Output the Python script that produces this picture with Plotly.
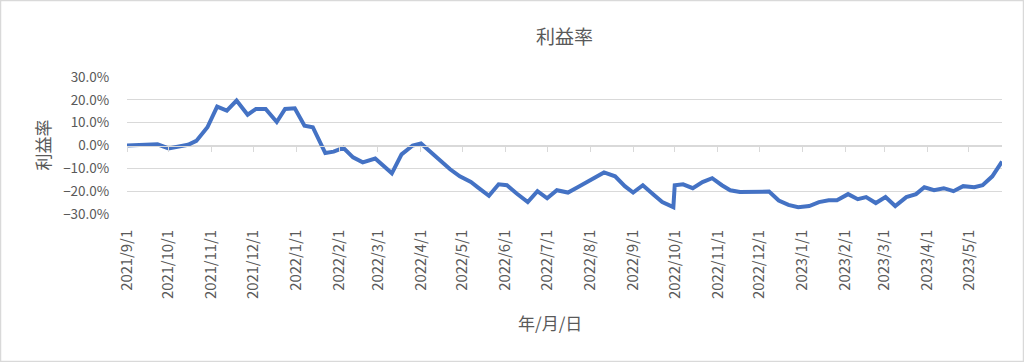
import plotly.graph_objects as go

# ---- data ----
dates = [
    "2021-09-01", "2021-09-08", "2021-09-15", "2021-09-23", "2021-10-01", "2021-10-08",
    "2021-10-15", "2021-10-21", "2021-10-29", "2021-11-05", "2021-11-12", "2021-11-19",
    "2021-11-27", "2021-12-03", "2021-12-10", "2021-12-18", "2021-12-24", "2021-12-31",
    "2022-01-07", "2022-01-13", "2022-01-22", "2022-01-28", "2022-02-04", "2022-02-11",
    "2022-02-18", "2022-02-27", "2022-03-05", "2022-03-11", "2022-03-18", "2022-03-26",
    "2022-04-01", "2022-04-08", "2022-04-14", "2022-04-22", "2022-04-29", "2022-05-07",
    "2022-05-12", "2022-05-20", "2022-05-27", "2022-06-02", "2022-06-09", "2022-06-17",
    "2022-06-24", "2022-07-01", "2022-07-08", "2022-07-16", "2022-07-23", "2022-07-30",
    "2022-08-05", "2022-08-11", "2022-08-19", "2022-08-26", "2022-09-01", "2022-09-08",
    "2022-09-16", "2022-09-22", "2022-09-30", "2022-10-01", "2022-10-07", "2022-10-14",
    "2022-10-21", "2022-10-28", "2022-11-04", "2022-11-10", "2022-11-17", "2022-11-25",
    "2022-12-02", "2022-12-08", "2022-12-15", "2022-12-22", "2022-12-29", "2023-01-06",
    "2023-01-13", "2023-01-20", "2023-01-26", "2023-02-03", "2023-02-10", "2023-02-16",
    "2023-02-23", "2023-03-02", "2023-03-09", "2023-03-17", "2023-03-24", "2023-03-30",
    "2023-04-06", "2023-04-13", "2023-04-20", "2023-04-27", "2023-05-05", "2023-05-11",
    "2023-05-18", "2023-05-25",
]
profit_rate = [
    0.000, 0.001, 0.002, 0.005, -0.013, -0.007,
    0.003, 0.020, 0.080, 0.170, 0.153, 0.197,
    0.135, 0.160, 0.160, 0.103, 0.160, 0.163,
    0.087, 0.080, -0.033, -0.027, -0.010, -0.052,
    -0.074, -0.057, -0.091, -0.122, -0.039, 0.000,
    0.009, -0.030, -0.061, -0.104, -0.135, -0.160,
    -0.183, -0.220, -0.170, -0.174, -0.210, -0.248,
    -0.200, -0.231, -0.196, -0.206, -0.183, -0.160,
    -0.140, -0.118, -0.135, -0.178, -0.206, -0.174,
    -0.217, -0.248, -0.270, -0.174, -0.170, -0.187,
    -0.160, -0.143, -0.174, -0.196, -0.204, -0.204,
    -0.200, -0.202, -0.241, -0.260, -0.270, -0.265,
    -0.248, -0.240, -0.240, -0.213, -0.235, -0.226,
    -0.252, -0.226, -0.265, -0.226, -0.213, -0.183,
    -0.196, -0.187, -0.200, -0.178, -0.183, -0.174,
    -0.135, -0.070,
]
tick_dates = [
    "2021-09-01", "2021-10-01", "2021-11-01", "2021-12-01", "2022-01-01", "2022-02-01",
    "2022-03-01", "2022-04-01", "2022-05-01", "2022-06-01", "2022-07-01", "2022-08-01",
    "2022-09-01", "2022-10-01", "2022-11-01", "2022-12-01", "2023-01-01", "2023-02-01",
    "2023-03-01", "2023-04-01", "2023-05-01",
]
tick_labels = [
    "2021/9/1", "2021/10/1", "2021/11/1", "2021/12/1", "2022/1/1", "2022/2/1",
    "2022/3/1", "2022/4/1", "2022/5/1", "2022/6/1", "2022/7/1", "2022/8/1",
    "2022/9/1", "2022/10/1", "2022/11/1", "2022/12/1", "2023/1/1", "2023/2/1",
    "2023/3/1", "2023/4/1", "2023/5/1",
]
y_ticks = [-0.3, -0.2, -0.1, 0.0, 0.1, 0.2, 0.3]
title_text = "利益率"
y_title = "利益率"
x_title = "年/月/日"

# ---- layout constants ----
W, H = 1024, 362
L, R, T, B = 127, 22, 77, 148
PW, PH = W - L - R, H - T - B
FONT = "Noto Sans CJK JP, Noto Sans, sans-serif"
GRAY = "#595959"
GRID = "#d9d9d9"
LINE = "#4472C4"

fig = go.Figure()
fig.add_trace(go.Scatter(
    x=dates, y=profit_rate, mode="lines",
    line=dict(color=LINE, width=4, shape="linear"),
    showlegend=False, hoverinfo="x+y",
))
# invisible trace to carry the zero-line tick axis
fig.add_trace(go.Scatter(
    x=dates, y=profit_rate, mode="lines", xaxis="x2",
    line=dict(color="rgba(0,0,0,0)", width=0),
    showlegend=False, hoverinfo="skip",
))

fig.update_layout(
    width=W, height=H,
    margin=dict(l=L, r=R, t=T, b=B, autoexpand=False),
    paper_bgcolor="white", plot_bgcolor="white",
    font=dict(family=FONT, color=GRAY, size=13),
    title=dict(text=title_text, x=(L + PW / 2) / W,
               xanchor="center", y=1 - 37 / H, yanchor="middle",
               font=dict(size=19, color=GRAY, family=FONT)),
    xaxis=dict(
        type="date", range=[dates[0], dates[-1]],
        tickvals=tick_dates, ticktext=tick_labels, tickangle=-90,
        ticks="outside", ticklen=9, tickcolor="rgba(0,0,0,0)",
        showgrid=False, showline=False, zeroline=False,
        tickfont=dict(size=14.8, color=GRAY, family=FONT),
    ),
    xaxis2=dict(
        type="date", overlaying="x", matches="x", anchor="free", position=0.5,
        tickvals=tick_dates, showticklabels=False,
        ticks="outside", ticklen=5, tickcolor=GRID, tickwidth=1,
        showline=True, linecolor=GRID, linewidth=1,
        showgrid=False, zeroline=False,
    ),
    yaxis=dict(
        range=[-0.3, 0.3], tickvals=y_ticks, tickformat=".1%",
        ticks="outside", ticklen=14, tickcolor="rgba(0,0,0,0)",
        showgrid=True, gridcolor=GRID, gridwidth=1,
        zeroline=False, showline=False,
        tickfont=dict(size=13.5, color=GRAY, family=FONT),
    ),
    annotations=[
        dict(text=y_title, xref="paper", yref="paper",
             x=(42 - L) / PW, y=0.5, textangle=-90, showarrow=False,
             xanchor="center", yanchor="middle",
             font=dict(size=17, color=GRAY, family=FONT)),
        dict(text=x_title, xref="paper", yref="paper",
             x=(550 - L) / PW, y=(T + PH - 322) / PH, showarrow=False,
             xanchor="center", yanchor="middle",
             font=dict(size=17, color=GRAY, family=FONT)),
    ],
    shapes=[
        dict(type="rect", xref="paper", yref="paper",
             x0=(0.5 - L) / PW, x1=(W - 0.5 - L) / PW,
             y0=(T + PH - (H - 0.5)) / PH, y1=(T + PH - 0.5) / PH,
             line=dict(color=GRID, width=1.5), fillcolor="rgba(0,0,0,0)", layer="below"),
    ],
)

fig.write_html("out.html", config={"displayModeBar": False},
               post_script="document.body.style.margin='0';")
